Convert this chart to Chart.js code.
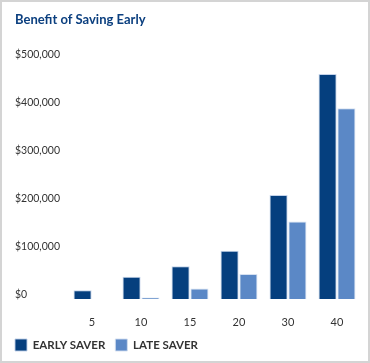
<!DOCTYPE html>
<html><head><meta charset="utf-8">
<script src="https://cdn.jsdelivr.net/npm/chart.js@4"></script>
<style>
html,body{margin:0;padding:0;background:#fff;}
#wrap{position:relative;width:370px;height:363px;box-sizing:border-box;border:2px solid #d4d4d4;background:#fff;}
canvas{display:block;}
</style></head>
<body><div id="wrap"><canvas id="c" width="366" height="359"></canvas></div>
<script>
const categories = ["5", "10", "15", "20", "30", "40"];
const earlySaver = [18000, 46000, 68000, 100000, 216000, 467000];
const lateSaver = [0, 3000, 22000, 52000, 161000, 396000];
const yTicks = [0, 100000, 200000, 300000, 400000, 500000];
const seriesNames = ["EARLY SAVER", "LATE SAVER"];
const titleText = "Benefit of Saving Early";

const shiftLegend = {
  id: 'shiftLegend',
  afterLayout(chart) { if (chart.legend) { chart.legend.left -= 10; } }
};

new Chart(document.getElementById('c'), {
  type: 'bar',
  data: {
    labels: categories,
    datasets: [
      { label: seriesNames[0], data: earlySaver, backgroundColor: '#053f7e', borderColor: 'rgba(190,206,232,0.9)', borderWidth: 1, borderSkipped: 'bottom' },
      { label: seriesNames[1], data: lateSaver, backgroundColor: '#5b88c6', borderColor: 'rgba(210,222,240,0.9)', borderWidth: 1, borderSkipped: 'bottom' }
    ]
  },
  options: {
    responsive: false,
    animation: false,
    events: [],
    layout: { padding: { left: 13, right: 6.5, top: 0, bottom: 0 } },
    datasets: { bar: { categoryPercentage: 0.77, barPercentage: 0.96 } },
    plugins: {
      tooltip: { enabled: false },
      title: {
        display: true, text: titleText, align: 'start', color: '#0b3f7f',
        font: { family: 'Lato', size: 13, weight: 'bold' },
        padding: { top: 10.5, bottom: 30.1 }
      },
      legend: {
        position: 'bottom', align: 'start',
        labels: {
          boxWidth: 12, boxHeight: 12, padding: 10, color: '#333',
          font: { family: 'Lato', size: 11.5, weight: 'bold' }
        }
      }
    },
    scales: {
      x: {
        grid: { display: false, drawTicks: false },
        border: { display: false },
        ticks: { color: '#333', font: { family: 'Lato', size: 11 }, padding: 17 },
        afterFit(s) { s.height = 30; }
      },
      y: {
        min: 0, max: 500000,
        afterBuildTicks(s) { s.ticks = yTicks.map(v => ({ value: v })); },
        grid: { display: false, drawTicks: false },
        border: { display: false },
        ticks: {
          color: '#333', font: { family: 'Lato', size: 10.5 }, crossAlign: 'far', padding: 0, labelOffset: -4,
          callback: v => '$' + Number(v).toLocaleString('en-US')
        },
        afterFit(s) { s.width = 52.5; }
      }
    }
  },
  plugins: [shiftLegend]
});
</script></body></html>
